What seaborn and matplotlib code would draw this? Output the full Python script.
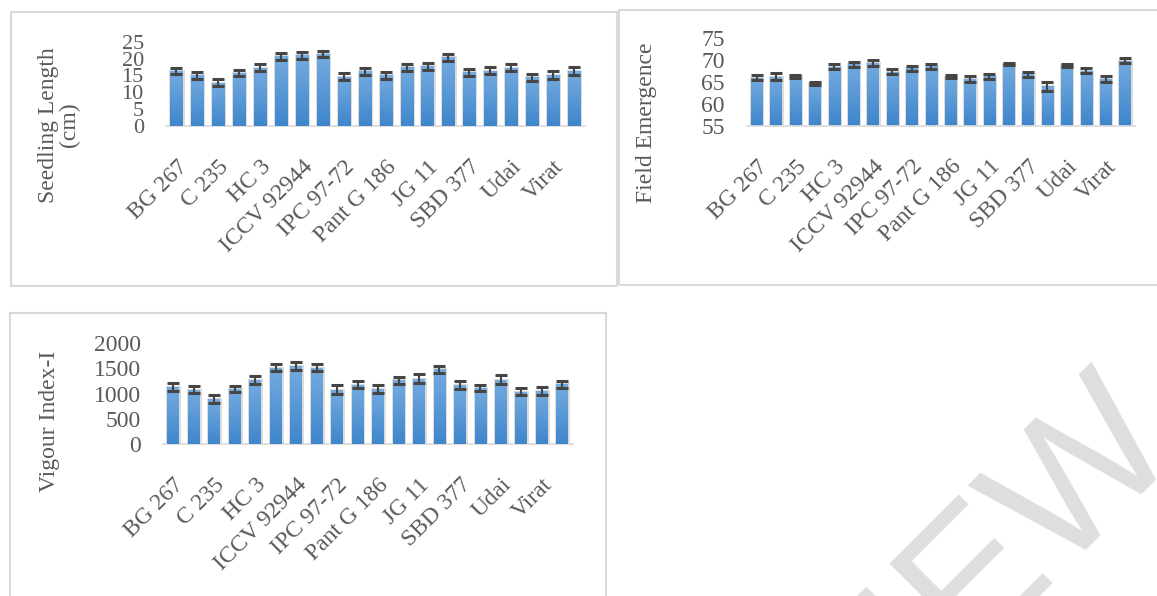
import numpy as np
import matplotlib.pyplot as plt
import seaborn as sns
from matplotlib.colors import LinearSegmentedColormap
from matplotlib.patches import Rectangle

# 20 genotypes on each chart, only every second one carries a label
tick_labels = ["BG 267", "C 235", "HC 3", "ICCV 92944", "IPC 97-72",
               "Pant G 186", "JG 11", "SBD 377", "Udai", "Virat"]
genotype_no = list(range(1, 21))

seedling_length = [16.2, 15.0, 12.8, 15.7, 17.3, 20.7, 21.0, 21.4, 14.6, 16.2,
                   15.1, 17.4, 17.8, 20.4, 16.0, 16.4, 17.3, 14.5, 15.1, 16.3]
seedling_err = [0.9, 1.1, 1.0, 0.9, 1.0, 1.0, 1.0, 1.0, 1.0, 1.1,
                1.05, 1.1, 1.05, 1.1, 1.05, 1.1, 1.05, 1.05, 1.1, 1.1]

field_emergence = [65.9, 66.1, 66.2, 64.6, 68.4, 68.9, 69.2, 67.2, 68.0, 68.5,
                   66.1, 65.5, 66.2, 69.0, 66.6, 63.9, 68.7, 67.5, 65.5, 69.7]
field_err = [0.57, 0.76, 0.3, 0.3, 0.57, 0.64, 0.72, 0.6, 0.57, 0.57,
             0.3, 0.64, 0.6, 0.3, 0.64, 0.95, 0.3, 0.64, 0.64, 0.6]

vigour_index = [1125, 1079, 895, 1093, 1267, 1511, 1541, 1509, 1076, 1178,
                1089, 1264, 1297, 1479, 1165, 1112, 1274, 1036, 1050, 1182]
vigour_err = [76, 76, 76, 56, 86, 73, 76, 69, 92, 76,
              86, 69, 83, 73, 83, 63, 86, 66, 79, 73]

sns.set_theme(style="white")
plt.rcParams["font.family"] = ["Liberation Serif", "DejaVu Serif"]
TXT = "#595959"

W, H = 1157, 596
fig = plt.figure(figsize=(W / 100, H / 100), dpi=100)

# gradient used to fill the bars (dark at the base, lighter at the top)
bar_cmap = LinearSegmentedColormap.from_list("bar", ["#3f86cc", "#74abe0"])
grad = np.linspace(0, 1, 128).reshape(-1, 1)


def px_rect(x0, y0, x1, y1):
    """pixel box (top-left origin) -> figure fraction [l, b, w, h]"""
    return [x0 / W, 1 - y1 / H, (x1 - x0) / W, (y1 - y0) / H]


def panel(box, frame, values, errs, yticks, ylabel, label_xy, tick_size):
    ax = fig.add_axes(px_rect(*box))
    ax.set_facecolor("none")
    sns.barplot(x=genotype_no, y=values, ax=ax, color="#5b9bd5", width=0.58,
                edgecolor="#dcdcdc", linewidth=2.2, errorbar=None)
    ymin = yticks[0]
    for p in ax.patches:
        x0, w, h = p.get_x(), p.get_width(), p.get_height()
        im = ax.imshow(grad, extent=[x0, x0 + w, max(0, ymin), h],
                       origin="lower", aspect="auto", cmap=bar_cmap, zorder=3)
        im.set_clip_path(p)
    ax.errorbar(np.arange(len(values)), values, yerr=errs, fmt="none",
                ecolor="#454545", elinewidth=1.5, capsize=4.6, capthick=2.2,
                zorder=5)
    ax.set_xlim(-0.5, len(values) - 0.5)
    ax.set_ylim(yticks[0], yticks[-1])
    ax.set_yticks(yticks)
    ax.set_yticklabels([str(t) for t in yticks], fontsize=tick_size, color=TXT)
    ax.set_xticks(np.arange(0, len(values), 2))
    ax.set_xticklabels(tick_labels, rotation=45, ha="right", va="top",
                       rotation_mode="anchor", fontsize=17, color=TXT)
    ax.tick_params(axis="y", length=0, pad=16)
    ax.tick_params(axis="x", length=0, pad=22)
    for s in ["left", "top", "right"]:
        ax.spines[s].set_visible(False)
    ax.spines["bottom"].set_color("#d9d9d9")
    ax.spines["bottom"].set_linewidth(1.2)
    ax.set_xlabel("")
    ax.set_ylabel(ylabel, fontsize=17, color=TXT, linespacing=1.0)
    ax.yaxis.set_label_coords(*label_xy)
    fig.patches.append(Rectangle(px_rect(*frame)[:2], *px_rect(*frame)[2:],
                                 transform=fig.transFigure, fill=False,
                                 edgecolor="#d9d9d9", linewidth=1.5, zorder=0))
    return ax


panel((166, 42, 584.5, 125.7), (11, 12, 617, 286), seedling_length, seedling_err,
      [0, 5, 10, 15, 20, 25], "Seedling Length\n(cm)", (-0.206, 0.01), 16)
panel((747, 37.5, 1134.7, 125.5), (619, 10, 1162, 285), field_emergence, field_err,
      [55, 60, 65, 70, 75], "Field Emergence", (-0.232, 0.03), 17)
panel((163, 343, 572.6, 444), (10, 313, 606, 602), vigour_index, vigour_err,
      [0, 500, 1000, 1500, 2000], "Vigour Index-I", (-0.252, 0.22), 17)

# faint watermark across the lower right corner
fig.text(1.020, 0.262, "PREVIEW", rotation=45, rotation_mode="anchor",
         ha="right", va="baseline", fontsize=135, color="#dedede",
         family="Liberation Sans", zorder=0)

fig.savefig("out.png", dpi=100)
